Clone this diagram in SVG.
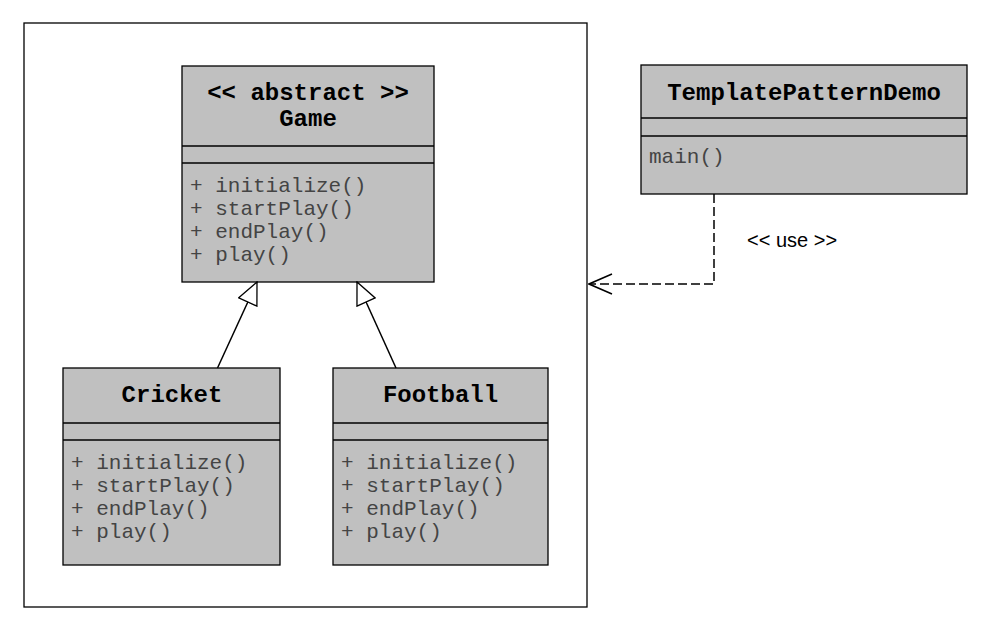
<svg xmlns="http://www.w3.org/2000/svg" width="995" height="633" viewBox="0 0 995 633">
<style>
.pkg{fill:#fff;stroke:#000;stroke-width:1.3}
.box{fill:#c0c0c0;stroke:#000;stroke-width:1.3}
.sep{stroke:#000;stroke-width:1.3}
.title{font-family:"Liberation Mono","Courier New",monospace;font-weight:bold;font-size:24px;fill:#000;text-anchor:middle}
.m{font-family:"Liberation Mono","Courier New",monospace;font-size:21px;fill:#444}
.lbl{font-family:"Liberation Sans",Arial,sans-serif;font-size:20px;fill:#000}
.gen{stroke:#000;stroke-width:1.5;fill:none}
.dep{stroke:#000;stroke-width:1.5;fill:none;stroke-dasharray:9,4}
</style>
<defs>
<marker id="tri" markerUnits="userSpaceOnUse" viewBox="0 0 24 22" refX="23" refY="11" markerWidth="24" markerHeight="22" orient="auto">
<path d="M1,1 L23,11 L1,21 z" fill="#fff" stroke="#000" stroke-width="1.3"/>
</marker>
<marker id="open" markerUnits="userSpaceOnUse" viewBox="0 0 26 24" refX="25" refY="12" markerWidth="26" markerHeight="24" orient="auto">
<path d="M2,2 L25,12 L2,22" fill="none" stroke="#000" stroke-width="1.5" stroke-dasharray="none"/>
</marker>
</defs>

<g id="package">
<rect class="pkg" x="24" y="23" width="563" height="584"/>
</g>

<g id="game">
<rect class="box" x="182" y="66" width="252" height="216"/>
<line class="sep" x1="182" y1="146" x2="434" y2="146"/>
<line class="sep" x1="182" y1="163" x2="434" y2="163"/>
<text class="title" x="308" y="100">&lt;&lt; abstract &gt;&gt;</text>
<text class="title" x="308" y="126">Game</text>
<text class="m" x="190" y="192">+ initialize()</text>
<text class="m" x="190" y="215">+ startPlay()</text>
<text class="m" x="190" y="238">+ endPlay()</text>
<text class="m" x="190" y="261">+ play()</text>
</g>

<g id="cricket">
<rect class="box" x="63" y="368" width="217" height="197"/>
<line class="sep" x1="63" y1="423" x2="280" y2="423"/>
<line class="sep" x1="63" y1="440" x2="280" y2="440"/>
<text class="title" x="172" y="402">Cricket</text>
<text class="m" x="71" y="469">+ initialize()</text>
<text class="m" x="71" y="492">+ startPlay()</text>
<text class="m" x="71" y="515">+ endPlay()</text>
<text class="m" x="71" y="538">+ play()</text>
</g>

<g id="football">
<rect class="box" x="333" y="368" width="215" height="197"/>
<line class="sep" x1="333" y1="423" x2="548" y2="423"/>
<line class="sep" x1="333" y1="440" x2="548" y2="440"/>
<text class="title" x="440.5" y="402">Football</text>
<text class="m" x="341" y="469">+ initialize()</text>
<text class="m" x="341" y="492">+ startPlay()</text>
<text class="m" x="341" y="515">+ endPlay()</text>
<text class="m" x="341" y="538">+ play()</text>
</g>

<g id="templatePatternDemo">
<rect class="box" x="641" y="65" width="326" height="129"/>
<line class="sep" x1="641" y1="118" x2="967" y2="118"/>
<line class="sep" x1="641" y1="136" x2="967" y2="136"/>
<text class="title" x="804" y="100">TemplatePatternDemo</text>
<text class="m" x="649" y="163">main()</text>
</g>

<g id="connectors">
<line class="gen" x1="217.5" y1="368" x2="257" y2="282" marker-end="url(#tri)"/>
<line class="gen" x1="396" y1="368" x2="357" y2="282" marker-end="url(#tri)"/>
<polyline class="dep" points="714,194 714,284 589,284" marker-end="url(#open)"/>
<text class="lbl" x="747" y="247">&lt;&lt; use &gt;&gt;</text>
</g>
</svg>
